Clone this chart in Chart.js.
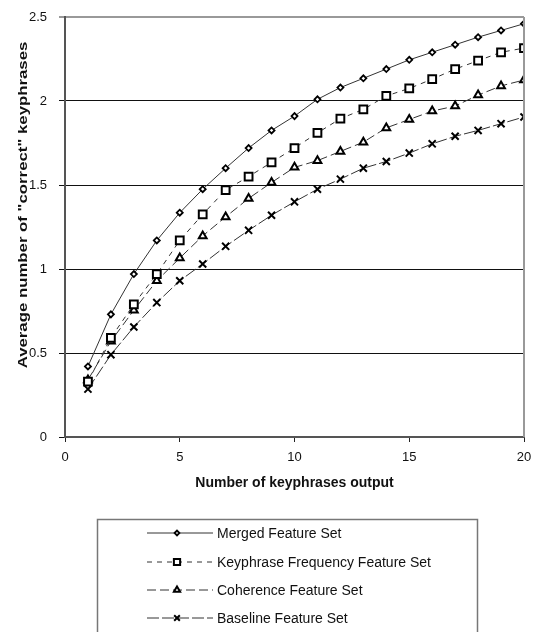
<!DOCTYPE html>
<html>
<head>
<meta charset="utf-8">
<script src="https://cdn.jsdelivr.net/npm/chart.js@4/dist/chart.umd.min.js"></script>
<style>
  body { margin: 0; background: #fff; }
  canvas { display: block; }
</style>
</head>
<body>
<canvas id="kpChart" width="533" height="632"></canvas>
<script>
// data
const outputCounts = [1, 2, 3, 4, 5, 6, 7, 8, 9, 10, 11, 12, 13, 14, 15, 16, 17, 18, 19, 20];
const mergedSet = [0.42, 0.73, 0.97, 1.17, 1.335, 1.475, 1.60, 1.72, 1.825, 1.91, 2.01, 2.08, 2.135, 2.19, 2.245, 2.29, 2.335, 2.38, 2.42, 2.46];
const kfSet = [0.33, 0.59, 0.79, 0.97, 1.17, 1.325, 1.47, 1.55, 1.635, 1.72, 1.81, 1.895, 1.95, 2.03, 2.075, 2.13, 2.19, 2.24, 2.29, 2.315];
const coherenceSet = [0.34, 0.57, 0.755, 0.93, 1.065, 1.197, 1.31, 1.42, 1.515, 1.605, 1.645, 1.70, 1.755, 1.84, 1.89, 1.94, 1.97, 2.035, 2.09, 2.125];
const baselineSet = [0.285, 0.49, 0.655, 0.80, 0.93, 1.03, 1.135, 1.23, 1.32, 1.40, 1.475, 1.535, 1.60, 1.64, 1.69, 1.745, 1.79, 1.825, 1.865, 1.905];
const seriesNames = ['Merged Feature Set', 'Keyphrase Frequency Feature Set', 'Coherence Feature Set', 'Baseline Feature Set'];
const xTitle = 'Number of keyphrases output';
const yTitle = 'Average number of "correct" keyphrases';

const FONT = 'Liberation Sans, Arial, sans-serif';

function toPoints(vals) {
    return vals.map((v, i) => ({ x: outputCounts[i], y: v }));
}

// style for each series
const seriesStyle = [
    { pointStyle: 'rectRot', radius: 3, borderWidth: 1.8, dash: [] },
    { pointStyle: 'rect', radius: 5.5, borderWidth: 2, dash: [5, 5] },
    { pointStyle: 'triangle', radius: 4.5, borderWidth: 2, dash: [9, 4] },
    { pointStyle: 'crossRot', radius: 5, borderWidth: 2, dash: [12, 3] }
];

const allSeries = [mergedSet, kfSet, coherenceSet, baselineSet];

const datasets = allSeries.map((vals, i) => ({
    label: seriesNames[i],
    data: toPoints(vals),
    borderColor: '#333',
    borderWidth: 1,
    borderDash: seriesStyle[i].dash,
    pointStyle: seriesStyle[i].pointStyle,
    pointRadius: seriesStyle[i].radius,
    pointBorderWidth: seriesStyle[i].borderWidth,
    pointBorderColor: '#000',
    pointBackgroundColor: '#fff',
    tension: 0
}));

// titles, right border and the boxed legend under the plot
const decorPlugin = {
    id: 'decor',
    afterDraw(chart) {
        const ctx = chart.ctx;
        const area = chart.chartArea;
        ctx.save();

        ctx.strokeStyle = '#999';
        ctx.lineWidth = 2;
        ctx.beginPath();
        ctx.moveTo(area.right, area.top);
        ctx.lineTo(area.right, area.bottom);
        ctx.stroke();

        ctx.fillStyle = '#111';
        ctx.font = 'bold 14px ' + FONT;
        ctx.textAlign = 'center';
        ctx.textBaseline = 'middle';
        ctx.fillText(xTitle, (area.left + area.right) / 2, 483);

        // y title is drawn a bit stretched, like in the scan
        ctx.font = 'bold 13px ' + FONT;
        ctx.save();
        ctx.translate(23, 205);
        ctx.rotate(-Math.PI / 2);
        ctx.scale(1.29, 1);
        ctx.fillText(yTitle, 0, 0);
        ctx.restore();

        // legend
        ctx.strokeStyle = '#777';
        ctx.lineWidth = 1.5;
        ctx.strokeRect(97.5, 519.5, 380, 130);

        const rowsY = [533, 562, 590, 618];
        ctx.font = '14px ' + FONT;
        ctx.textAlign = 'left';
        datasets.forEach((ds, i) => {
            const y = rowsY[i];
            ctx.strokeStyle = '#333';
            ctx.lineWidth = 1;
            ctx.setLineDash(ds.borderDash);
            ctx.beginPath();
            ctx.moveTo(147, y);
            ctx.lineTo(213, y);
            ctx.stroke();
            ctx.setLineDash([]);
            ctx.fillStyle = '#fff';
            ctx.strokeStyle = '#000';
            ctx.lineWidth = ds.pointBorderWidth;
            Chart.helpers.drawPoint(ctx, {
                pointStyle: ds.pointStyle,
                radius: ds.pointRadius * 0.8,
                borderWidth: ds.pointBorderWidth,
                rotation: 0
            }, 177, y);
            ctx.fillStyle = '#111';
            ctx.fillText(ds.label, 217, y + 1);
        });
        ctx.restore();
    }
};

new Chart(document.getElementById('kpChart').getContext('2d'), {
    type: 'line',
    data: { datasets },
    options: {
        responsive: false,
        animation: false,
        layout: { padding: { left: 0, top: 17, right: 9, bottom: 165 } },
        plugins: {
            legend: { display: false },
            tooltip: { enabled: false }
        },
        scales: {
            x: {
                type: 'linear',
                min: 0,
                max: 20,
                afterFit: (s) => { s.height = 30; s.paddingLeft = 0; s.paddingRight = 0; },
                ticks: { stepSize: 5, padding: 8, color: '#111', font: { family: FONT, size: 13 }, maxRotation: 0 },
                grid: { drawOnChartArea: false, tickLength: 5, color: '#222' },
                border: { color: '#555', width: 2 }
            },
            y: {
                min: 0,
                max: 2.5,
                afterFit: (s) => { s.width = 65; s.paddingTop = 0; s.paddingBottom = 0; },
                ticks: {
                    stepSize: 0.5, padding: 12, color: '#111', font: { family: FONT, size: 13 },
                    callback: (v) => String(v)
                },
                grid: {
                    tickLength: 6,
                    color: (c) => (c.tick && c.tick.value === 2.5 ? '#999' : '#111'),
                    lineWidth: (c) => (c.tick && c.tick.value === 2.5 ? 2 : 1)
                },
                border: { color: '#555', width: 2 }
            }
        }
    },
    plugins: [decorPlugin]
});
</script>
</body>
</html>
